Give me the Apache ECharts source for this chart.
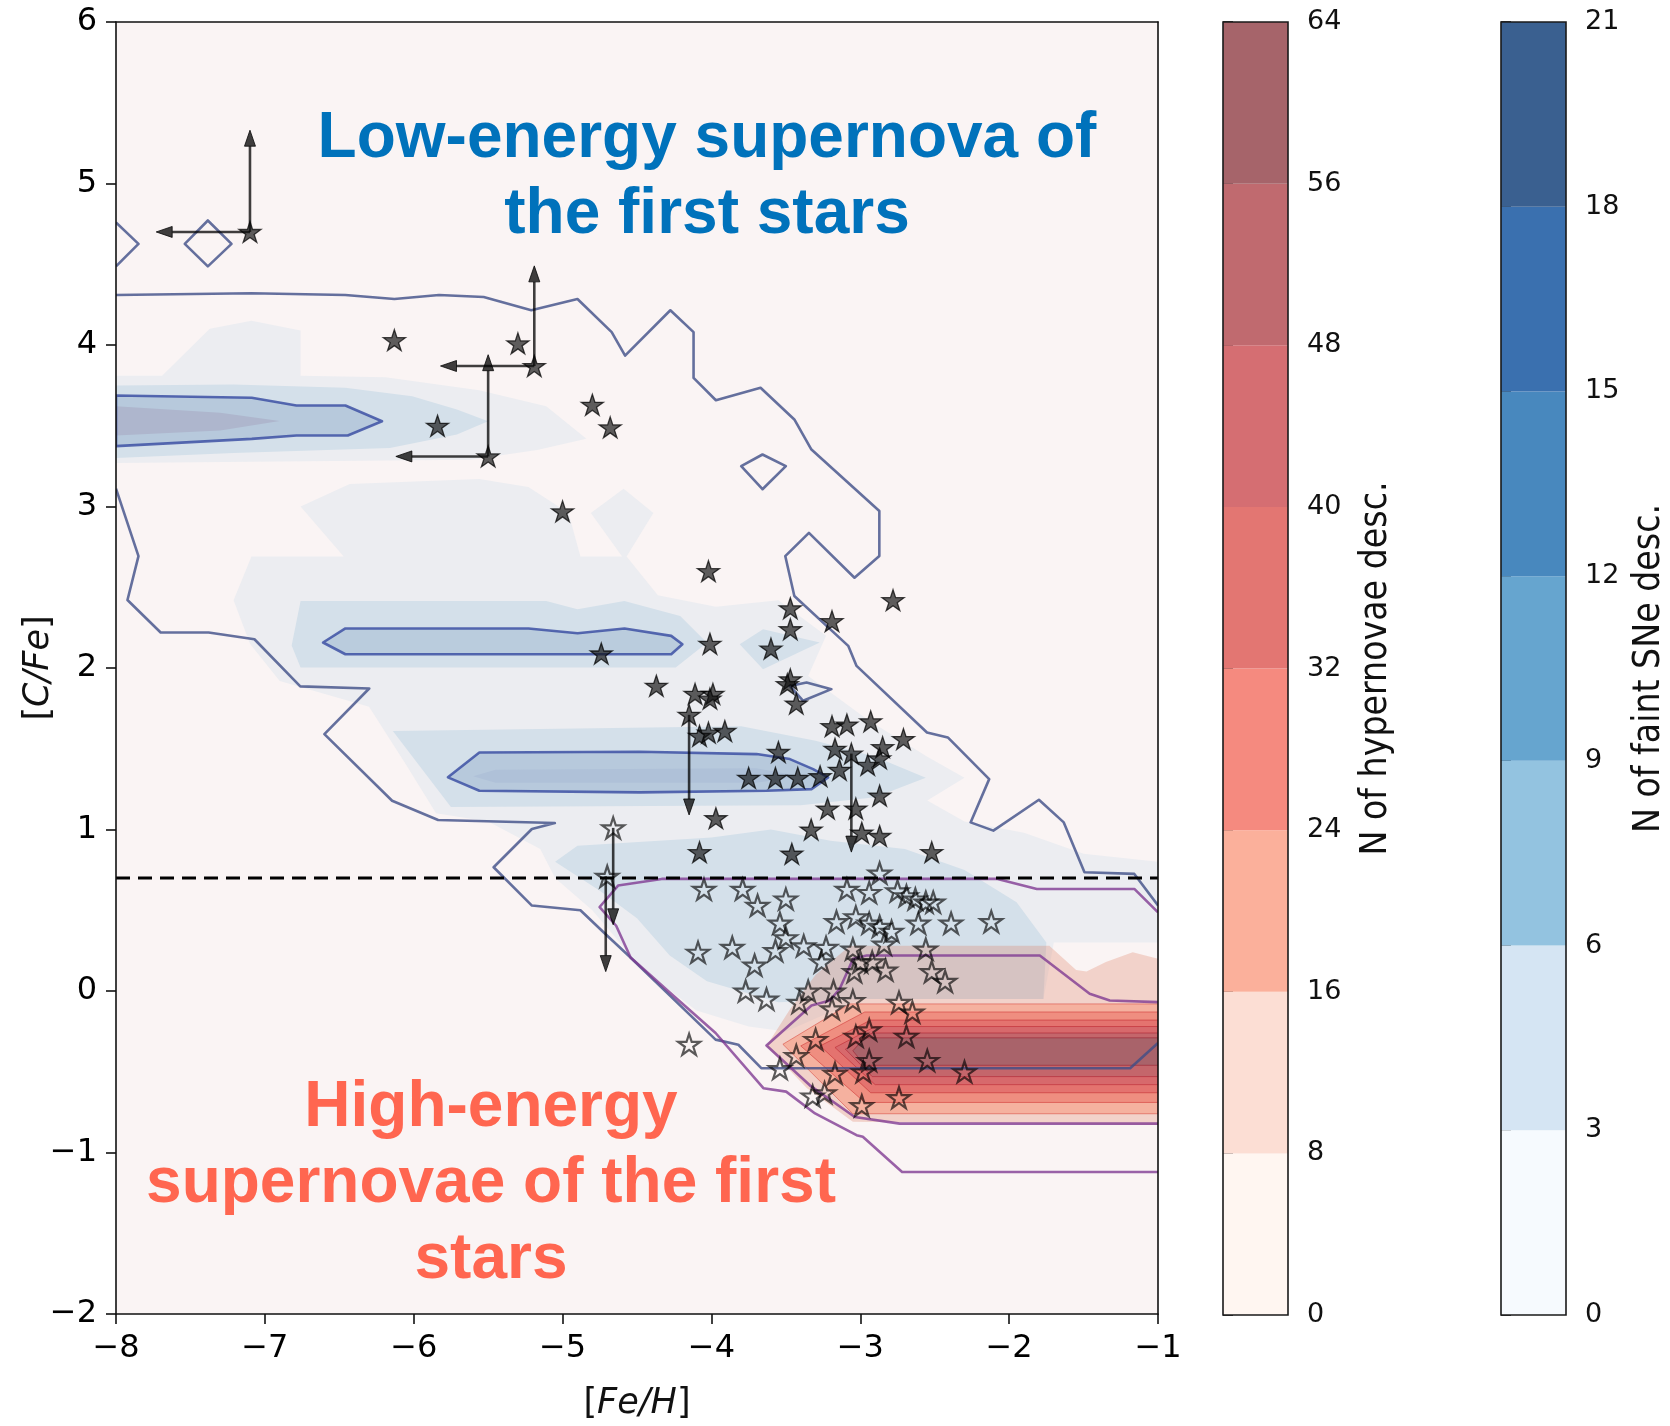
<!DOCTYPE html>
<html>
<head>
<meta charset="utf-8">
<script src="https://cdn.jsdelivr.net/npm/echarts@6/dist/echarts.min.js"></script>
<style>
html,body{margin:0;padding:0;background:#fff;}
#chart{width:1670px;height:1426px;}
</style>
</head>
<body>
<div id="chart"></div>
<script>
// ---------------- DATA ----------------
const xTicks = [-8,-7,-6,-5,-4,-3,-2,-1];
const yTicks = [-2,-1,0,1,2,3,4,5,6];
const hnLevels = [0,8,16,24,32,40,48,56,64];
const fsLevels = [0,3,6,9,12,15,18,21];
const dashedY = 0.7;

// filled stars [Fe/H],[C/Fe]
const starsFilled = [
[-7.10,4.70],[-6.13,4.03],[-5.30,4.01],[-5.19,3.87],[-5.84,3.50],[-5.50,3.31],[-4.80,3.63],[-4.68,3.49],
[-5.00,2.97],[-4.02,2.60],[-4.74,2.09],[-4.01,2.15],[-4.37,1.89],[-2.78,2.42],[-3.47,2.37],[-3.19,2.29],
[-3.47,2.24],[-3.60,2.12],[-3.47,1.93],[-3.49,1.90],[-3.43,1.78],[-4.11,1.84],[-3.99,1.84],[-4.01,1.81],
[-4.15,1.71],[-4.08,1.58],[-4.02,1.60],[-3.91,1.61],[-3.55,1.48],[-3.75,1.32],[-3.57,1.32],[-3.42,1.32],
[-3.27,1.33],[-3.19,1.64],[-3.09,1.65],[-2.93,1.67],[-2.71,1.56],[-3.17,1.50],[-3.06,1.47],[-2.85,1.51],
[-2.95,1.40],[-2.87,1.44],[-3.14,1.37],[-2.87,1.21],[-3.22,1.13],[-3.03,1.13],[-3.97,1.07],[-3.33,1.00],
[-2.99,0.98],[-2.87,0.96],[-4.08,0.86],[-3.46,0.85],[-2.52,0.86]
];
// open stars
const starsOpen = [
[-4.66,1.01],[-4.70,0.71],[-2.87,0.73],[-4.05,0.63],[-3.79,0.63],[-3.69,0.53],[-3.50,0.57],[-3.09,0.63],
[-2.94,0.61],[-2.75,0.62],[-2.69,0.59],[-2.63,0.57],[-2.56,0.55],[-2.51,0.55],[-3.54,0.42],[-3.16,0.43],
[-3.03,0.46],[-2.94,0.42],[-2.87,0.40],[-2.79,0.37],[-2.61,0.42],[-2.39,0.42],[-2.12,0.43],[-4.09,0.24],
[-3.86,0.27],[-3.57,0.25],[-3.50,0.33],[-3.38,0.28],[-3.23,0.27],[-3.05,0.26],[-2.84,0.29],[-2.56,0.26],
[-3.71,0.16],[-3.26,0.18],[-2.92,0.18],[-2.83,0.13],[-2.52,0.12],[-2.43,0.06],[-3.77,0.00],[-3.63,-0.05],
[-3.41,-0.07],[-3.35,0.00],[-3.19,-0.11],[-3.18,0.00],[-3.05,-0.06],[-2.74,-0.07],[-2.65,-0.13],[-4.15,-0.33],
[-3.30,-0.30],[-3.43,-0.40],[-3.03,-0.28],[-2.94,-0.24],[-2.69,-0.28],[-2.94,-0.43],[-3.54,-0.48],[-3.17,-0.51],
[-2.98,-0.50],[-2.55,-0.43],[-2.30,-0.50],[-3.32,-0.65],[-3.24,-0.63],[-2.74,-0.66],[-2.99,-0.71],[-3.00,0.18],
[-3.04,0.12]
];
// limit arrows [x0,y0,x1,y1]
const limitArrows = [
[-7.10,4.70,-7.10,5.33],[-7.10,4.70,-7.73,4.70],
[-5.19,3.87,-5.19,4.49],[-5.19,3.87,-5.82,3.87],
[-5.50,3.31,-5.50,3.94],[-5.50,3.31,-6.12,3.31],
[-4.15,1.71,-4.15,1.09],[-3.06,1.47,-3.06,0.86],
[-4.66,1.01,-4.66,0.41],[-4.71,0.71,-4.71,0.12]
];

// faint-SN density fill regions (pale, light, medium, core)
const fsPale1 = [[-8,3.81],[-7.69,3.81],[-7.37,4.10],[-7.09,4.15],[-6.76,4.09],[-6.76,3.81],[-6.19,3.80],[-5.56,3.72],[-5.11,3.62],[-4.84,3.42],[-5.17,3.35],[-5.62,3.29],[-8,3.27]];
const fsPale2 = [[-6.76,3.00],[-6.43,3.14],[-5.56,3.17],[-5.23,3.12],[-4.96,2.96],[-4.88,2.69],[-4.60,2.69],[-4.81,2.96],[-4.59,3.11],[-4.39,2.96],[-4.57,2.69],[-4.36,2.45],[-3.97,2.38],[-3.55,2.42],[-3.23,2.20],[-3.35,1.95],[-2.95,1.68],[-2.55,1.45],[-2.30,1.32],[-2.55,1.18],[-2.30,1.05],[-1.90,0.98],[-1.50,0.85],[-1.0,0.80],[-1.0,0.30],[-1.70,0.30],[-1.77,-0.05],[-3.0,-0.05],[-3.5,-0.25],[-3.75,-0.22],[-4.1,-0.12],[-4.45,0.12],[-4.8,0.50],[-5.05,0.70],[-5.15,0.88],[-5.50,1.05],[-5.85,1.10],[-6.05,1.40],[-6.30,1.76],[-6.90,1.92],[-7.10,2.15],[-7.21,2.42],[-7.09,2.69],[-6.47,2.69]];
const fsLight1 = [[-8,3.75],[-7.21,3.755],[-6.46,3.735],[-6.01,3.683],[-5.71,3.60],[-5.50,3.528],[-5.71,3.446],[-6.16,3.363],[-7.21,3.332],[-8,3.30]];
const fsLight2 = [[-6.82,2.14],[-6.76,2.415],[-5.11,2.415],[-4.90,2.364],[-4.585,2.415],[-4.21,2.322],[-4.03,2.157],[-4.24,2.003],[-6.76,2.003]];
const fsLight3 = [[-3.81,2.147],[-3.653,2.24],[-3.272,2.158],[-3.653,1.993]];
const fsLight4 = [[-6.14,1.61],[-3.8,1.64],[-3.3,1.55],[-2.9,1.45],[-2.56,1.32],[-2.9,1.2],[-3.4,1.15],[-5.75,1.14]];
const fsLight5 = [[-5.05,0.80],[-4.90,0.90],[-4.0,0.95],[-3.6,1.0],[-3.2,0.93],[-2.7,0.88],[-2.3,0.75],[-1.95,0.55],[-1.75,0.30],[-1.77,-0.05],[-3.0,-0.05],[-3.55,-0.07],[-4.03,0.06],[-4.28,0.22],[-4.5,0.45],[-4.75,0.62]];
const fsCore1 = [[-8,3.62],[-7.3,3.58],[-6.9,3.53],[-7.3,3.47],[-8,3.44]];
const fsCore3 = [[-5.45,1.37],[-3.7,1.38],[-3.4,1.33],[-3.7,1.29],[-5.45,1.29],[-5.6,1.33]];

// faint-SN contour lines
const fsLineOuterTop = [[-8.0,4.31],[-7.09,4.32],[-6.46,4.31],[-6.13,4.285],[-5.83,4.31],[-5.53,4.297],[-5.21,4.215],[-4.90,4.285],[-4.67,4.08],[-4.58,3.934],[-4.276,4.215],[-4.12,4.08],[-4.12,3.796],[-3.97,3.658],[-3.67,3.735],[-3.443,3.539],[-3.33,3.355],[-2.872,2.972],[-2.872,2.693],[-3.039,2.559],[-3.345,2.837],[-3.504,2.693],[-3.443,2.446],[-3.081,2.137],[-3.025,2.013],[-2.552,1.601],[-2.412,1.57],[-2.134,1.312],[-2.259,1.044],[-2.106,0.993],[-1.80,1.184],[-1.633,1.044],[-1.494,0.735],[-1.159,0.725],[-1.0,0.53]];
const fsLineOuterBottom = [[-1.0,-0.322],[-1.187,-0.478],[-3.665,-0.478],[-3.819,-0.333],[-3.972,-0.301],[-4.556,0.218],[-4.723,0.362],[-4.88,0.50],[-5.206,0.529],[-5.463,0.766],[-5.206,1.003],[-5.052,1.04],[-5.836,1.059],[-6.145,1.178],[-6.6,1.591],[-6.299,1.873],[-6.762,1.886],[-7.07,2.178],[-7.378,2.22],[-7.7,2.22],[-7.923,2.421],[-7.849,2.693],[-8.0,3.11]];
const fsLineEdge = [[-8,4.759],[-7.849,4.626],[-8,4.487]];
const fsLineDiamondA = [[-7.383,4.771],[-7.224,4.626],[-7.383,4.487],[-7.538,4.626]];
const fsLineDiamondB = [[-3.80,3.25],[-3.657,3.322],[-3.50,3.25],[-3.657,3.107]];
const fsLineIsland = [[-3.473,1.889],[-3.361,1.91],[-3.194,1.869],[-3.384,1.797]];
const fsLobe1 = [[-8,3.687],[-7.088,3.673],[-6.788,3.625],[-6.459,3.625],[-6.213,3.528],[-6.443,3.44],[-6.788,3.44],[-7.088,3.419],[-8,3.374]];
const fsLobe2 = [[-6.609,2.158],[-6.459,2.245],[-5.229,2.245],[-4.899,2.215],[-4.584,2.245],[-4.27,2.199],[-4.195,2.147],[-4.27,2.085],[-6.459,2.085]];
const fsLobe3 = [[-5.77,1.323],[-5.559,1.477],[-4.481,1.481],[-3.697,1.467],[-3.473,1.436],[-3.317,1.374],[-3.216,1.323],[-3.328,1.25],[-3.63,1.24],[-4.481,1.23],[-5.559,1.24]];

// hypernova density fill regions (8,16,24,32,40,48,56 levels)
const hn8  = [[-3.63,-0.34],[-3.47,-0.11],[-3.30,0.10],[-3.07,0.28],[-1.73,0.28],[-1.55,0.13],[-1.48,0.12],[-1.35,0.18],[-1.17,0.24],[-1.0,0.20],[-1.0,-0.83],[-3.05,-0.81],[-3.36,-0.60]];
const hn16 = [[-3.52,-0.33],[-3.07,-0.08],[-1.0,-0.08],[-1.0,-0.76],[-3.05,-0.76]];
const hn24 = [[-3.40,-0.34],[-2.97,-0.13],[-1.0,-0.13],[-1.0,-0.69],[-2.97,-0.69]];
const hn32 = [[-3.27,-0.34],[-2.93,-0.18],[-1.0,-0.18],[-1.0,-0.63],[-2.93,-0.63]];
const hn40 = [[-3.17,-0.35],[-2.90,-0.22],[-1.0,-0.22],[-1.0,-0.58],[-2.90,-0.58]];
const hn48 = [[-3.10,-0.36],[-2.92,-0.26],[-1.0,-0.26],[-1.0,-0.53],[-2.92,-0.53]];
const hn56 = [[-3.05,-0.37],[-2.97,-0.29],[-1.0,-0.29],[-1.0,-0.46],[-2.97,-0.46]];

// hypernova contour lines
const hnLineOuter = [[-1.0,0.487],[-1.159,0.632],[-1.814,0.632],[-2.078,0.694],[-4.334,0.694],[-4.627,0.653],[-4.751,0.52],[-4.64,0.404],[-4.543,0.207],[-4.278,-0.011],[-3.972,-0.26],[-3.651,-0.602],[-3.498,-0.623],[-3.304,-0.758],[-3.025,-0.893],[-2.983,-0.903],[-2.719,-1.121],[-1.0,-1.121]];
const hnLineInner = [[-1.0,-0.069],[-1.324,-0.059],[-1.459,-0.017],[-1.794,0.22],[-2.958,0.22],[-3.048,0.2],[-3.138,0.014],[-3.205,-0.059],[-3.328,-0.09],[-3.63,-0.337],[-3.339,-0.584],[-3.037,-0.78],[-2.735,-0.821],[-1.0,-0.821]];

// ---------------- STYLES ----------------
const plotBg = '#FAF4F4';
const navyOuter = 'rgba(62,78,135,0.80)';
const navyInner = 'rgba(52,72,160,0.80)';
const purple = 'rgba(125,55,145,0.78)';
const hnColors = ['#FFF6F1','#FCDED4','#FBB09B','#F58A7F','#E37672','#D56E72','#C06A6F','#A6646A'];
const fsColors = ['#F6FAFE','#D5E5F3','#93C3E0','#66A5CF','#4888BE','#3A70AF','#3A6090'];

const fillShapes = [
  {pts: fsPale1, fill:'#ECEDF1'}, {pts: fsPale2, fill:'#ECEDF1'},
  {pts: fsLight1, fill:'#D4E0EA'}, {pts: fsLight2, fill:'#D4E0EA'}, {pts: fsLight3, fill:'#D4E0EA'},
  {pts: fsLight4, fill:'#D4E0EA'}, {pts: fsLight5, fill:'#D4E0EA'},
  {pts: fsLobe1, fill:'#B7C9DC'}, {pts: fsLobe2, fill:'#BACCDD'}, {pts: fsLobe3, fill:'#B7C9DC'},
  {pts: fsCore1, fill:'#AEB6CD'}, {pts: fsCore3, fill:'#AFC1D8'},
  {pts: hn8,  fill:'rgba(220,120,90,0.27)'},
  {pts: hn16, fill:'#F5B19F', stroke:'rgba(215,70,60,0.55)', lw:1},
  {pts: hn24, fill:'#EF8E80', stroke:'rgba(205,50,50,0.55)', lw:1},
  {pts: hn32, fill:'#E4736F', stroke:'rgba(195,40,45,0.55)', lw:1},
  {pts: hn40, fill:'#D7696C', stroke:'rgba(185,35,45,0.55)', lw:1},
  {pts: hn48, fill:'#C4666B', stroke:'rgba(170,30,45,0.55)', lw:1},
  {pts: hn56, fill:'#A9636A', stroke:'rgba(150,30,45,0.55)', lw:1}
];
const lineShapes = [
  {pts: fsLineOuterTop, stroke:navyOuter, lw:2.6, closed:false},
  {pts: fsLineOuterBottom, stroke:navyOuter, lw:2.6, closed:false},
  {pts: fsLineEdge, stroke:navyOuter, lw:2.6, closed:false},
  {pts: fsLineDiamondA, stroke:navyOuter, lw:2.6, closed:true},
  {pts: fsLineDiamondB, stroke:navyOuter, lw:2.6, closed:true},
  {pts: fsLineIsland, stroke:navyOuter, lw:2.6, closed:true},
  {pts: fsLobe1, stroke:navyInner, lw:2.6, closed:true},
  {pts: fsLobe2, stroke:navyInner, lw:2.6, closed:true},
  {pts: fsLobe3, stroke:navyInner, lw:2.6, closed:true},
  {pts: hnLineOuter, stroke:purple, lw:2.6, closed:false},
  {pts: hnLineInner, stroke:purple, lw:2.6, closed:false}
];

// star marker path
let sp = [];
for (let i = 0; i < 10; i++) {
  const a = (-90 + i * 36) * Math.PI / 180;
  const r = i % 2 === 0 ? 10 : 3.82;
  sp.push((i ? 'L' : 'M') + (r * Math.cos(a)).toFixed(3) + ' ' + (r * Math.sin(a)).toFixed(3));
}
const starPath = 'path://' + sp.join(' ') + ' Z';

const minus = v => (v < 0 ? '\u2212' + Math.abs(v) : String(v));
const tickFont = 'DejaVu Sans';
const condFont = '"DejaVu Sans Condensed", "DejaVu Sans"';

function shapeSeries(list, z, fillMode) {
  return {
    type: 'custom', coordinateSystem: 'cartesian2d', xAxisIndex: 0, yAxisIndex: 0,
    z: z, silent: true, clip: true,
    data: list.map((s, i) => [i]),
    renderItem: function (params, api) {
      const s = list[params.dataIndex];
      const pts = s.pts.map(p => api.coord(p));
      if (fillMode) {
        return {type: 'polygon', shape: {points: pts},
          style: {fill: s.fill, stroke: s.stroke || null, lineWidth: s.lw || 0}};
      }
      return {type: s.closed ? 'polygon' : 'polyline', shape: {points: pts},
        style: {fill: null, stroke: s.stroke, lineWidth: s.lw, lineJoin: 'round'}};
    }
  };
}

function colorbarSeries(levels, colors, axisIdx) {
  const segs = [];
  for (let i = 0; i < levels.length - 1; i++) segs.push([levels[i], levels[i + 1], i]);
  return [{
    type: 'custom', coordinateSystem: 'cartesian2d', xAxisIndex: axisIdx, yAxisIndex: axisIdx,
    silent: true, z: 2, data: segs,
    renderItem: function (params, api) {
      const p0 = api.coord([0, api.value(0)]);
      const p1 = api.coord([1, api.value(1)]);
      return {type: 'rect', shape: {x: p0[0], y: p1[1], width: p1[0] - p0[0], height: p0[1] - p1[1]},
        style: {fill: colors[api.value(2)]}};
    }
  }, {
    type: 'custom', coordinateSystem: 'cartesian2d', xAxisIndex: axisIdx, yAxisIndex: axisIdx,
    silent: true, z: 3, data: [[levels[0], levels[levels.length - 1]]],
    renderItem: function (params, api) {
      const p0 = api.coord([0, api.value(0)]);
      const p1 = api.coord([1, api.value(1)]);
      return {type: 'rect', shape: {x: p0[0], y: p1[1], width: p1[0] - p0[0], height: p0[1] - p1[1]},
        style: {fill: null, stroke: '#1a1a1a', lineWidth: 1.6}};
    }
  }];
}

const chart = echarts.init(document.getElementById('chart'), null, {renderer: 'canvas'});

const mainAxisLabel = {fontSize: 32, fontFamily: tickFont, color: '#000', margin: 19, formatter: minus};
const axisLine = {show: true, onZero: false, lineStyle: {color: '#111', width: 1.6}};
const axisTick = {show: true, inside: false, length: 10, lineStyle: {color: '#111', width: 1.6}};
const titleRich = {n: {fontSize: 35, fontFamily: tickFont, color: '#111'},
                   i: {fontSize: 35, fontFamily: tickFont, fontStyle: 'italic', color: '#111'}};

const option = {
  animation: false,
  backgroundColor: '#ffffff',
  grid: [
    {left: 116, top: 22, width: 1042, height: 1293, show: true, backgroundColor: plotBg, borderWidth: 0},
    {left: 1223, top: 22, width: 65, height: 1293, show: false},
    {left: 1501, top: 22, width: 65, height: 1293, show: false}
  ],
  xAxis: [
    {gridIndex: 0, type: 'value', min: xTicks[0], max: xTicks[xTicks.length - 1], interval: 1,
     axisLine: axisLine, axisTick: axisTick, axisLabel: mainAxisLabel, splitLine: {show: false}, z: 10,
     name: '{n|[}{i|Fe/H}{n|]}', nameLocation: 'middle', nameGap: 72, nameMoveOverlap: false,
     nameTextStyle: {rich: titleRich}},
    {gridIndex: 0, type: 'value', position: 'top', min: -8, max: -1, interval: 1,
     axisLine: axisLine, axisTick: {show: false}, axisLabel: {show: false}, splitLine: {show: false}, z: 10},
    {gridIndex: 1, type: 'value', min: 0, max: 1, show: false},
    {gridIndex: 2, type: 'value', min: 0, max: 1, show: false}
  ],
  yAxis: [
    {gridIndex: 0, type: 'value', min: yTicks[0], max: yTicks[yTicks.length - 1], interval: 1,
     axisLine: axisLine, axisTick: axisTick, axisLabel: mainAxisLabel, splitLine: {show: false}, z: 10,
     name: '{n|[}{i|C/Fe}{n|]}', nameLocation: 'middle', nameRotate: 90, nameGap: 60, nameMoveOverlap: false,
     nameTextStyle: {rich: titleRich}},
    {gridIndex: 0, type: 'value', position: 'right', min: -2, max: 6, interval: 1,
     axisLine: axisLine, axisTick: {show: false}, axisLabel: {show: false}, splitLine: {show: false}, z: 10},
    {gridIndex: 1, type: 'value', position: 'right', min: hnLevels[0], max: hnLevels[hnLevels.length - 1], interval: 8,
     axisLine: {show: false}, axisTick: {show: true, length: 10, lineStyle: {color: '#111', width: 1.6}},
     axisLabel: {fontSize: 27, fontFamily: tickFont, color: '#111', margin: 19}, splitLine: {show: false},
     name: 'N of hypernovae desc.', nameLocation: 'middle', nameRotate: 90, nameGap: 70, nameMoveOverlap: false,
     nameTextStyle: {fontSize: 37, fontFamily: condFont, color: '#111'}},
    {gridIndex: 2, type: 'value', position: 'right', min: fsLevels[0], max: fsLevels[fsLevels.length - 1], interval: 3,
     axisLine: {show: false}, axisTick: {show: true, length: 10, lineStyle: {color: '#111', width: 1.6}},
     axisLabel: {fontSize: 27, fontFamily: tickFont, color: '#111', margin: 19}, splitLine: {show: false},
     name: 'N of faint SNe desc.', nameLocation: 'middle', nameRotate: 90, nameGap: 65, nameMoveOverlap: false,
     nameTextStyle: {fontSize: 37, fontFamily: condFont, color: '#111'}}
  ],
  graphic: [
    {type: 'text', x: 707, y: 101, z: 100, silent: true,
     style: {text: 'Low-energy supernova of\nthe first stars', fill: '#0072BB', fontSize: 64, fontWeight: 'bold',
             fontFamily: '"Liberation Sans", Arial, sans-serif', align: 'center', verticalAlign: 'top', lineHeight: 76}},
    {type: 'text', x: 491, y: 1070, z: 100, silent: true,
     style: {text: 'High-energy\nsupernovae of the first\nstars', fill: '#FF6650', fontSize: 64, fontWeight: 'bold',
             fontFamily: '"Liberation Sans", Arial, sans-serif', align: 'center', verticalAlign: 'top', lineHeight: 76}}
  ],
  series: [
    shapeSeries(fillShapes, 2, true),
    shapeSeries(lineShapes, 3, false),
    {type: 'line', xAxisIndex: 0, yAxisIndex: 0, z: 4, silent: true, symbol: 'none',
     data: [[xTicks[0], dashedY], [xTicks[xTicks.length - 1], dashedY]],
     lineStyle: {color: '#000', width: 3, type: [14, 8]}},
    {type: 'custom', coordinateSystem: 'cartesian2d', xAxisIndex: 0, yAxisIndex: 0, z: 5, silent: true,
     data: limitArrows,
     renderItem: function (params, api) {
       const p0 = api.coord([api.value(0), api.value(1)]);
       const p1 = api.coord([api.value(2), api.value(3)]);
       const dx = p1[0] - p0[0], dy = p1[1] - p0[1];
       const len = Math.sqrt(dx * dx + dy * dy);
       const ux = dx / len, uy = dy / len, nx = -uy, ny = ux;
       const L = 16, W = 5.5;
       const bx = p1[0] - ux * L, by = p1[1] - uy * L;
       return {type: 'group', children: [
         {type: 'line', shape: {x1: p0[0], y1: p0[1], x2: bx, y2: by},
          style: {stroke: 'rgba(0,0,0,0.75)', lineWidth: 2.6}},
         {type: 'polygon', shape: {points: [[p1[0], p1[1]], [bx + nx * W, by + ny * W], [bx - nx * W, by - ny * W]]},
          style: {fill: 'rgba(0,0,0,0.75)', stroke: 'rgba(0,0,0,0.75)', lineWidth: 1}}
       ]};
     }},
    {type: 'scatter', xAxisIndex: 0, yAxisIndex: 0, z: 6, silent: true, data: starsOpen,
     symbol: starPath, symbolSize: 22, symbolKeepAspect: true,
     itemStyle: {color: 'rgba(255,255,255,0)', borderColor: 'rgba(0,0,0,0.8)', borderWidth: 2.2}},
    {type: 'scatter', xAxisIndex: 0, yAxisIndex: 0, z: 6, silent: true, data: starsFilled,
     symbol: starPath, symbolSize: 22, symbolKeepAspect: true,
     itemStyle: {color: 'rgba(12,12,12,0.82)', borderColor: 'rgba(0,0,0,0.9)', borderWidth: 1.3}}
  ].concat(colorbarSeries(hnLevels, hnColors, 2)).concat(colorbarSeries(fsLevels, fsColors, 3))
};
chart.setOption(option);
</script>
</body>
</html>
